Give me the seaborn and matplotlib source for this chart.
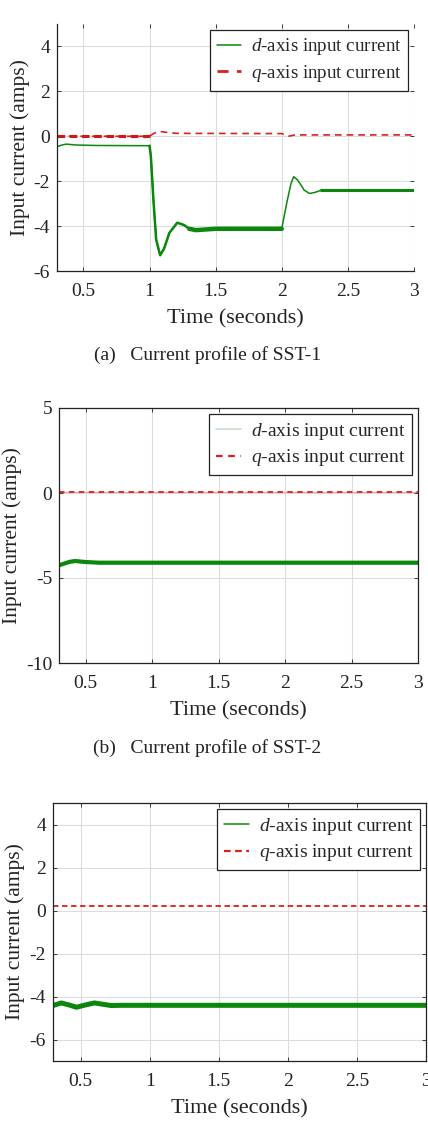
import pandas as pd
import matplotlib
matplotlib.use('Agg')
import matplotlib.pyplot as plt
import seaborn as sns

# ---- data ----
# (a) SST-1
d1_time = [0.30, 0.33, 0.37, 0.45, 0.60, 1.00, 1.01, 1.03, 1.05, 1.08, 1.11, 1.15, 1.21, 1.26,
           1.30, 1.35, 1.50, 2.00, 2.01, 2.04, 2.07, 2.09, 2.12, 2.17, 2.21, 2.25, 2.30, 2.50, 3.00]
d1_vals = [-0.47, -0.40, -0.35, -0.39, -0.41, -0.42, -0.90, -2.90, -4.60, -5.30, -5.00, -4.30, -3.85, -3.95,
           -4.12, -4.18, -4.12, -4.12, -3.80, -2.90, -2.10, -1.80, -1.95, -2.40, -2.55, -2.50, -2.40, -2.40, -2.40]
q1_time = [0.30, 1.00, 1.03, 1.07, 1.12, 1.20, 2.00, 2.05, 2.10, 3.00]
q1_vals = [0.00, 0.00, 0.12, 0.22, 0.18, 0.13, 0.12, 0.00, 0.06, 0.06]

# (b) SST-2
d2_time = [0.30, 0.34, 0.38, 0.42, 0.50, 0.60, 3.00]
d2_vals = [-4.25, -4.15, -4.05, -4.00, -4.06, -4.10, -4.10]
q2_time = [0.30, 3.00]
q2_vals = [0.08, 0.08]

# (c) SST-3
d3_time = [0.30, 0.36, 0.42, 0.47, 0.53, 0.60, 0.66, 0.72, 0.80, 3.00]
d3_vals = [-4.42, -4.30, -4.40, -4.50, -4.40, -4.30, -4.36, -4.42, -4.41, -4.41]
q3_time = [0.30, 3.00]
q3_vals = [0.23, 0.23]

x_ticks = [0.5, 1, 1.5, 2, 2.5, 3]
x_tick_labels = ['0.5', '1', '1.5', '2', '2.5', '3']
y_ticks_a = [-6, -4, -2, 0, 2, 4]
y_ticks_b = [-10, -5, 0, 5]
y_ticks_c = [-6, -4, -2, 0, 2, 4]

labels = ['$d$-axis input current', '$q$-axis input current']
captions = ['(a)   Current profile of SST-1', '(b)   Current profile of SST-2']

GREEN = '#0b870b'
RED = '#dd1f1f'

sns.set_theme(style='whitegrid')
plt.rcParams['font.family'] = ['Liberation Serif', 'DejaVu Serif']
plt.rcParams['mathtext.fontset'] = 'custom'
plt.rcParams['mathtext.it'] = 'Liberation Serif:italic'
plt.rcParams['mathtext.rm'] = 'Liberation Serif'
plt.rcParams['axes.unicode_minus'] = False

fig = plt.figure(figsize=(4.28, 11.36), dpi=100)

ax1 = fig.add_axes([57 / 428, 1 - 271 / 1136, 357 / 428, 247 / 1136])
ax2 = fig.add_axes([59 / 428, 1 - 663 / 1136, 359 / 428, 255 / 1136])
ax3 = fig.add_axes([53 / 428, 1 - 1061 / 1136, 373 / 428, 258 / 1136])


def style_axes(ax, yticks, ylim, ylab_x):
    ax.set_xlim(0.3, 3)
    ax.set_ylim(*ylim)
    ax.set_xticks(x_ticks)
    ax.set_xticklabels(x_tick_labels)
    ax.set_yticks(yticks)
    ax.set_yticklabels([str(v) for v in yticks])
    ax.grid(True, color='#dcdcdc', linewidth=0.8)
    ax.set_facecolor('white')
    for s in ax.spines.values():
        s.set_color('#222222')
        s.set_linewidth(0.9)
    ax.tick_params(direction='in', top=True, right=True, bottom=True, left=True,
                   length=3, width=0.6, color='#222222', labelsize=14, labelcolor='#222222', pad=5)
    ax.tick_params(axis='x', pad=9)
    ax.set_xlabel('Time (seconds)', fontsize=16, color='#222222', labelpad=6)
    ax.set_ylabel('Input current (amps)', fontsize=15.5, color='#222222')
    ax.yaxis.set_label_coords(ylab_x, 0.5)


def add_legend(ax, size):
    leg = ax.legend(loc='upper right', fontsize=size, frameon=True, fancybox=False,
                    edgecolor='#222222', framealpha=1, handlelength=1.3, handletextpad=0.5,
                    borderpad=0.35, labelspacing=0.3, borderaxespad=0.3)
    leg.get_frame().set_linewidth(0.9)
    return leg


# ---- (a) ----
df1 = pd.DataFrame({'t': d1_time, 'i': d1_vals})
dq1 = pd.DataFrame({'t': q1_time, 'i': q1_vals})
sns.lineplot(data=df1, x='t', y='i', ax=ax1, color=GREEN, linewidth=1.1, label=labels[0])
sns.lineplot(data=df1[(df1.t >= 1.0) & (df1.t <= 1.3)], x='t', y='i', ax=ax1, color=GREEN, linewidth=1.8)
sns.lineplot(data=df1[(df1.t >= 1.3) & (df1.t <= 2.0)], x='t', y='i', ax=ax1, color=GREEN, linewidth=3.2)
sns.lineplot(data=df1[df1.t >= 2.3], x='t', y='i', ax=ax1, color=GREEN, linewidth=2.2)
sns.lineplot(data=dq1, x='t', y='i', ax=ax1, color=RED, linewidth=1.2, linestyle=(0, (4, 3)), label=labels[1])
sns.lineplot(data=dq1[dq1.t <= 1.0], x='t', y='i', ax=ax1, color='#cc1a1a', linewidth=2.2, linestyle=(0, (2.5, 1.5)))
style_axes(ax1, y_ticks_a, (-6, 5), -0.076)
ax1.spines['top'].set_visible(False)
ax1.spines['right'].set_visible(False)
leg1 = add_legend(ax1, 13.7)
leg1.legend_handles[0].set_linewidth(1.1)
leg1.legend_handles[1].set_linewidth(2)

# ---- (b) ----
df2 = pd.DataFrame({'t': d2_time, 'i': d2_vals})
dq2 = pd.DataFrame({'t': q2_time, 'i': q2_vals})
sns.lineplot(data=df2, x='t', y='i', ax=ax2, color=GREEN, linewidth=3.0, label=labels[0])
sns.lineplot(data=dq2, x='t', y='i', ax=ax2, color='#f0a0a0', linewidth=0.8)
sns.lineplot(data=dq2, x='t', y='i', ax=ax2, color=RED, linewidth=1.3, linestyle=(0, (3, 2.5)), label=labels[1])
style_axes(ax2, y_ticks_b, (-10, 5), -0.103)
leg2 = add_legend(ax2, 14)
leg2.legend_handles[0].set_color('#c4e2c4')
leg2.legend_handles[0].set_linewidth(1.2)
leg2.legend_handles[1].set_linewidth(1.6)

# ---- (c) ----
df3 = pd.DataFrame({'t': d3_time, 'i': d3_vals})
dq3 = pd.DataFrame({'t': q3_time, 'i': q3_vals})
sns.lineplot(data=df3, x='t', y='i', ax=ax3, color=GREEN, linewidth=3.6, label=labels[0])
sns.lineplot(data=dq3, x='t', y='i', ax=ax3, color=RED, linewidth=1.3, linestyle=(0, (3, 2)), label=labels[1])
style_axes(ax3, y_ticks_c, (-7, 5), -0.075)
leg3 = add_legend(ax3, 14)
leg3.legend_handles[0].set_linewidth(1.1)
leg3.legend_handles[1].set_linewidth(1.6)

fig.text(207.5 / 428, 1 - 355 / 1136, captions[0], ha='center', va='center', fontsize=14, color='#222222')
fig.text(207.5 / 428, 1 - 748 / 1136, captions[1], ha='center', va='center', fontsize=14, color='#222222')

fig.savefig('out.png', dpi=100)
